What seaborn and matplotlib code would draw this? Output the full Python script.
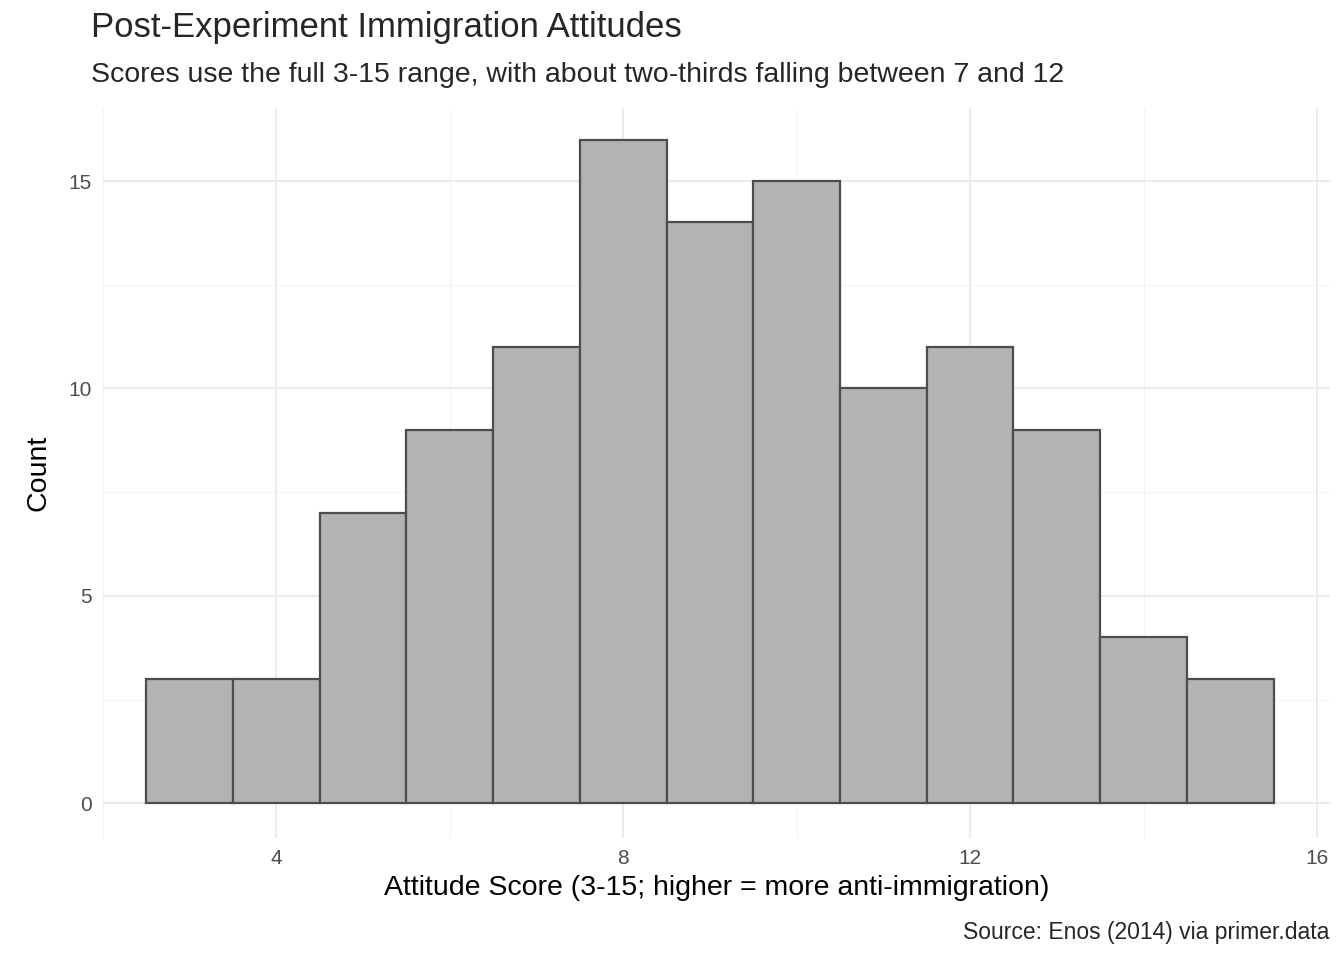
import matplotlib
matplotlib.use('Agg')
import matplotlib.pyplot as plt
import seaborn as sns

sns.set_style('white')
plt.rcParams['font.family'] = ['Liberation Sans', 'DejaVu Sans']

scores = [3, 4, 5, 6, 7, 8, 9, 10, 11, 12, 13, 14, 15]
counts = [3, 3, 7, 9, 11, 16, 14, 15, 10, 11, 9, 4, 3]

fig = plt.figure(figsize=(13.44, 9.6), dpi=100)
ax = fig.add_axes([0.0766, 0.127, 0.913, 0.7605])

sns.histplot(x=scores, weights=counts, discrete=True, ax=ax,
             color='#B3B3B3', edgecolor='#4D4D4D', linewidth=1.6, alpha=1, zorder=3)

ax.set_xlim(2.0, 16.15)
ax.set_ylim(-0.84, 16.76)
ax.set_xticks([4, 8, 12, 16])
ax.set_yticks([0, 5, 10, 15])
ax.set_xticks([2, 6, 10, 14], minor=True)
ax.set_yticks([2.5, 7.5, 12.5], minor=True)
ax.grid(True, which='major', color='#EBEBEB', linewidth=1.4, zorder=0)
ax.grid(True, which='minor', color='#F3F3F3', linewidth=0.8, zorder=0)
ax.set_axisbelow(True)
ax.tick_params(which='both', length=0, labelsize=15, colors='#4D4D4D', pad=8)
sns.despine(ax=ax, left=True, bottom=True)

ax.set_xlabel('Attitude Score (3-15; higher = more anti-immigration)', fontsize=20.5,
              labelpad=5, color='black')
ax.set_ylabel('Count', fontsize=20.5, labelpad=12, color='black')

fig.text(0.068, 0.971, 'Post-Experiment Immigration Attitudes', fontsize=25, va='center')
fig.text(0.068, 0.922, 'Scores use the full 3-15 range, with about two-thirds falling between 7 and 12',
         fontsize=20.5, va='center')
fig.text(0.989, 0.029, 'Source: Enos (2014) via primer.data', fontsize=16.5, ha='right', va='center')

plt.savefig('out.png', dpi=100)
